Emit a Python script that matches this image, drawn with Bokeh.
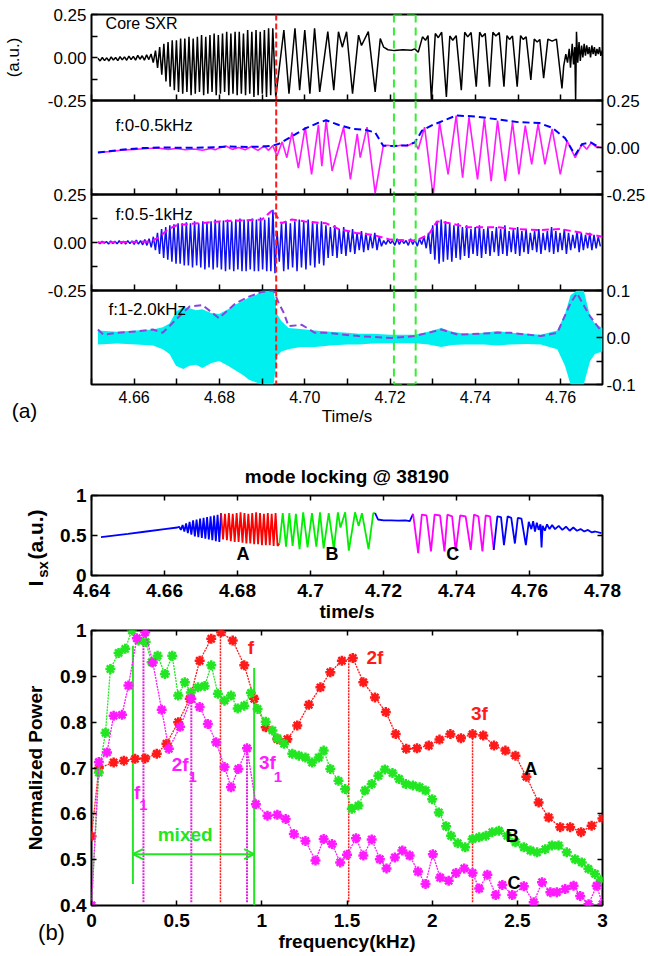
import numpy as np
from bokeh.plotting import figure
from bokeh.layouts import column, row
from bokeh.models import (Range1d, LinearAxis, FixedTicker, Span, Label, Arrow, OpenHead,
                          NumeralTickFormatter)
from bokeh.embed import file_html
from bokeh.resources import INLINE

FONT = "Liberation Sans"

# ===================== DATA : panel (a) =====================
a_time_range = (4.650, 4.7698)
a_xticks = [4.66, 4.68, 4.70, 4.72, 4.74, 4.76]
a_xminor = [4.65, 4.67, 4.69, 4.71, 4.73, 4.75]
red_line_t = 4.6933
lock_t0, lock_t1 = 4.7209, 4.7260

# core SXR (black) : fast cycles (start, end, peaks, troughs)
sxr_ripple_span = (4.6515, 4.6650)
sxr_ripple_peaks = [-0.005, 0.0, -0.002, 0.003, 0.0, 0.005, 0.004, 0.008, 0.007, 0.012, 0.01, 0.015, 0.02]
sxr_ripple_troughs = [-0.02, -0.018, -0.02, -0.015, -0.018, -0.014, -0.016, -0.012, -0.015, -0.01, -0.015, -0.012, -0.03]
sxr_main_span = (4.6650, 4.6925)
sxr_main_peaks = [0.04, 0.06, 0.08, 0.09, 0.10, 0.10, 0.11, 0.11, 0.12, 0.11, 0.12, 0.13, 0.12, 0.13,
                  0.14, 0.13, 0.14, 0.15, 0.14, 0.15, 0.15, 0.14, 0.16, 0.15, 0.16, 0.15, 0.16, 0.17]
sxr_main_troughs = [-0.06, -0.10, -0.14, -0.17, -0.19, -0.20, -0.21, -0.20, -0.22, -0.21, -0.20, -0.22, -0.21, -0.20,
                    -0.22, -0.21, -0.20, -0.22, -0.21, -0.22, -0.21, -0.22, -0.21, -0.23, -0.22, -0.21, -0.23, -0.22]
# core SXR slow part (time, value)
sxr_slow = [(4.6925, 0.17), (4.6932, -0.23), (4.6951, 0.16), (4.6963, -0.21), (4.6977, 0.17), (4.6988, -0.19),
            (4.7000, 0.16), (4.7012, -0.21), (4.7023, 0.17), (4.7035, -0.20), (4.7054, 0.15), (4.7068, -0.19),
            (4.7079, 0.15), (4.7088, 0.06), (4.7098, 0.15), (4.7112, -0.21), (4.7126, 0.13), (4.7133, 0.07),
            (4.7149, 0.15), (4.7165, -0.20), (4.7177, 0.11), (4.7185, 0.06), (4.7195, 0.045), (4.7210, 0.04),
            (4.7230, 0.045), (4.7250, 0.042), (4.7258, 0.05), (4.7266, 0.03), (4.7276, 0.12), (4.7283, 0.10),
            (4.7289, 0.127), (4.7297, -0.25), (4.7306, 0.14), (4.7313, 0.115), (4.7321, 0.147), (4.7332, -0.23),
            (4.7340, 0.125), (4.7347, 0.10), (4.7355, 0.127), (4.7367, -0.19), (4.7375, 0.147), (4.7382, 0.12),
            (4.7390, 0.145), (4.7402, -0.17), (4.7410, 0.147), (4.7416, 0.12), (4.7423, 0.14), (4.7433, -0.17),
            (4.7441, 0.147), (4.7448, 0.125), (4.7456, 0.145), (4.7467, -0.17), (4.7474, 0.127), (4.7480, 0.105),
            (4.7487, 0.125), (4.7498, -0.17), (4.7506, 0.127), (4.7512, 0.105), (4.7519, 0.12), (4.7530, -0.13),
            (4.7538, 0.107), (4.7545, 0.09), (4.7551, 0.105), (4.7560, -0.12), (4.7570, 0.107), (4.7580, 0.095),
            (4.7590, 0.107), (4.7603, -0.18),
            (4.7607, -0.05), (4.7612, 0.02), (4.7616, -0.03), (4.7620, 0.05), (4.7623, -0.06), (4.7627, 0.08),
            (4.7630, -0.04), (4.7633, 0.06), (4.7635, -0.25), (4.7637, 0.15), (4.7640, -0.03), (4.7643, 0.09),
            (4.7646, -0.02), (4.7649, 0.07), (4.7652, 0.0), (4.7655, 0.08), (4.7658, 0.01), (4.7661, 0.07),
            (4.7664, 0.02), (4.7667, 0.06), (4.7670, 0.0), (4.7673, 0.07), (4.7676, 0.02), (4.7679, 0.06),
            (4.7682, 0.01), (4.7685, 0.05), (4.7688, 0.02), (4.7691, 0.06), (4.7694, 0.01), (4.7697, 0.04)]

# f:0-0.5kHz (magenta) and its envelope (blue dashed)
lowpass = [(4.6515, -0.027), (4.654, -0.022), (4.657, -0.015), (4.660, -0.01), (4.663, -0.005), (4.6655, -0.003),
           (4.668, -0.01), (4.670, -0.005), (4.672, -0.012), (4.674, -0.008), (4.676, -0.015), (4.678, -0.005),
           (4.679, -0.012), (4.680, -0.002), (4.6815, 0.008), (4.683, -0.01), (4.6845, 0.0), (4.686, -0.012),
           (4.6875, 0.005), (4.689, -0.015), (4.6905, 0.008), (4.6915, -0.015), (4.6925, 0.01), (4.6935, -0.045),
           (4.6947, 0.03), (4.6958, -0.054), (4.6970, 0.08), (4.6985, -0.11), (4.7001, 0.108), (4.7016, -0.143),
           (4.7032, 0.12), (4.7040, -0.10), (4.7050, 0.143), (4.7064, -0.125), (4.7091, 0.108), (4.7107, -0.17),
           (4.7123, 0.072), (4.7130, -0.054), (4.7146, 0.108), (4.7165, -0.242), (4.7184, 0.009), (4.7195, 0.012),
           (4.7210, 0.005), (4.7225, 0.012), (4.7240, 0.008), (4.7250, 0.02), (4.7258, 0.027), (4.7266, -0.009),
           (4.7281, 0.108), (4.7301, -0.26), (4.7316, 0.134), (4.7336, -0.143), (4.7355, 0.17), (4.7370, -0.161),
           (4.7385, 0.161), (4.7405, -0.17), (4.7421, 0.152), (4.7437, -0.179), (4.7452, 0.143), (4.7470, -0.179),
           (4.7487, 0.134), (4.7502, -0.143), (4.7517, 0.116), (4.7532, -0.09), (4.7547, 0.125), (4.7563, -0.09),
           (4.7580, 0.099), (4.7599, -0.143), (4.7615, 0.036), (4.7634, -0.054), (4.7650, 0.018), (4.7661, -0.009),
           (4.7672, 0.027), (4.7682, 0.005), (4.7695, 0.0)]
lowpass_env = [(4.6515, -0.027), (4.657, -0.012), (4.662, -0.003), (4.667, 0.0), (4.672, -0.002), (4.677, 0.0),
               (4.682, 0.005), (4.687, 0.003), (4.690, 0.005), (4.6925, 0.01), (4.694, 0.02), (4.697, 0.06),
               (4.700, 0.10), (4.703, 0.13), (4.705, 0.145), (4.708, 0.12), (4.711, 0.10), (4.714, 0.095),
               (4.7165, 0.08), (4.7184, 0.009), (4.721, 0.008), (4.724, 0.012), (4.7258, 0.027), (4.7275, 0.09),
               (4.730, 0.12), (4.7355, 0.17), (4.740, 0.165), (4.745, 0.15), (4.750, 0.135), (4.755, 0.13),
               (4.758, 0.105), (4.761, 0.05), (4.7634, -0.04), (4.765, 0.018), (4.767, 0.027), (4.7692, 0.0)]

# f:0.5-1kHz (blue) cycles per segment, and envelope (magenta dashed)
band_segments = [
    ((4.6515, 4.6645),
     [0.004, 0.006, 0.005, 0.008, 0.006, 0.009, 0.007, 0.01, 0.008, 0.012, 0.01, 0.015, 0.02],
     [-0.006, -0.004, -0.008, -0.005, -0.007, -0.006, -0.008, -0.006, -0.01, -0.008, -0.012, -0.015, -0.025]),
    ((4.6645, 4.6935),
     [0.03, 0.05, 0.07, 0.08, 0.09, 0.095, 0.10, 0.10, 0.105, 0.10, 0.11, 0.10, 0.11, 0.105, 0.11,
      0.12, 0.11, 0.115, 0.12, 0.11, 0.12, 0.125, 0.12, 0.115, 0.125, 0.12, 0.13, 0.12, 0.13, 0.17],
     [-0.04, -0.06, -0.08, -0.09, -0.10, -0.11, -0.11, -0.12, -0.12, -0.13, -0.12, -0.13, -0.14, -0.13, -0.14,
      -0.13, -0.14, -0.15, -0.14, -0.15, -0.14, -0.15, -0.15, -0.14, -0.15, -0.15, -0.14, -0.15, -0.15, -0.16]),
    ((4.6935, 4.7185),
     [0.06, 0.10, 0.11, 0.10, 0.11, 0.12, 0.11, 0.12, 0.11, 0.10, 0.11, 0.09,
      0.08, 0.09, 0.07, 0.08, 0.06, 0.07, 0.05, 0.06, 0.05, 0.04, 0.05, 0.03],
     [-0.10, -0.15, -0.14, -0.13, -0.15, -0.13, -0.14, -0.12, -0.13, -0.11, -0.12, -0.08,
      -0.07, -0.08, -0.06, -0.07, -0.05, -0.06, -0.04, -0.05, -0.04, -0.03, -0.04, -0.02]),
    ((4.7185, 4.7290),
     [0.01, 0.015, 0.01, 0.02, 0.015, 0.01, 0.02, 0.015, 0.02, 0.03],
     [-0.01, -0.005, -0.015, -0.01, -0.005, -0.015, -0.01, -0.02, -0.01, -0.03]),
    ((4.7290, 4.7698),
     [0.05, 0.09, 0.11, 0.12, 0.11, 0.10, 0.09, 0.10, 0.08, 0.09, 0.07, 0.08, 0.09, 0.07, 0.08, 0.06, 0.08,
      0.07, 0.09, 0.06, 0.07, 0.08, 0.06, 0.07, 0.05, 0.06, 0.07, 0.05, 0.06, 0.08, 0.06, 0.05, 0.07, 0.05,
      0.04, 0.06, 0.05, 0.04, 0.05, 0.04, 0.03],
     [-0.06, -0.09, -0.11, -0.10, -0.09, -0.10, -0.08, -0.09, -0.07, -0.08, -0.06, -0.07, -0.08, -0.06, -0.07,
      -0.05, -0.07, -0.06, -0.07, -0.05, -0.06, -0.07, -0.05, -0.06, -0.04, -0.05, -0.06, -0.04, -0.05, -0.06,
      -0.05, -0.04, -0.06, -0.04, -0.03, -0.05, -0.04, -0.03, -0.04, -0.03, -0.02]),
]
band_env_t = [4.6515, 4.664, 4.666, 4.668, 4.670, 4.675, 4.680, 4.685, 4.690, 4.6925, 4.6945, 4.697, 4.700, 4.705,
              4.708, 4.712, 4.716, 4.720, 4.726, 4.729, 4.731, 4.734, 4.738, 4.745, 4.750, 4.755, 4.760, 4.765, 4.7698]
band_env_v = [0.0, 0.005, 0.03, 0.07, 0.09, 0.10, 0.11, 0.115, 0.12, 0.17, 0.10, 0.12, 0.11, 0.10,
              0.07, 0.05, 0.04, 0.015, 0.01, 0.04, 0.11, 0.10, 0.08, 0.08, 0.07, 0.065, 0.07, 0.05, 0.03]

# f:1-2.0kHz (cyan band) upper/lower extent, and envelope (purple dashed)
hf_t = [4.6515, 4.6560, 4.6605, 4.6644, 4.6667, 4.6683, 4.6698, 4.6715, 4.6730, 4.6745, 4.6760, 4.6780, 4.6799,
        4.6820, 4.6838, 4.6855, 4.6869, 4.6885, 4.6900, 4.6915, 4.6927, 4.6935, 4.6945, 4.6962, 4.6990, 4.7024,
        4.7060, 4.7100, 4.7126, 4.7160, 4.7200, 4.7258, 4.7290, 4.7320, 4.7345, 4.7375, 4.7420, 4.7452, 4.7483,
        4.7520, 4.7553, 4.7592, 4.7610, 4.7623, 4.7638, 4.7654, 4.7669, 4.7680, 4.7698]
hf_hi = [0.015, 0.012, 0.015, 0.017, 0.022, 0.03, 0.055, 0.065, 0.062, 0.058, 0.06, 0.052, 0.05, 0.06, 0.07,
         0.078, 0.085, 0.09, 0.10, 0.10, 0.10, 0.05, 0.035, 0.02, 0.018, 0.015, 0.012, 0.010, 0.008, 0.008,
         0.006, 0.006, 0.012, 0.02, 0.012, 0.008, 0.010, 0.014, 0.010, 0.008, 0.006, 0.015, 0.05, 0.09, 0.10,
         0.10, 0.045, 0.03, 0.02]
hf_lo = [-0.015, -0.013, -0.015, -0.017, -0.025, -0.035, -0.06, -0.067, -0.06, -0.058, -0.065, -0.055, -0.05,
         -0.06, -0.07, -0.08, -0.09, -0.095, -0.10, -0.10, -0.10, -0.04, -0.03, -0.025, -0.02, -0.02, -0.017,
         -0.015, -0.015, -0.013, -0.012, -0.012, -0.015, -0.02, -0.016, -0.015, -0.015, -0.017, -0.015, -0.014,
         -0.015, -0.025, -0.06, -0.10, -0.10, -0.10, -0.05, -0.035, -0.03]
hf_env_t = [4.6515, 4.6528, 4.6559, 4.6605, 4.6644, 4.6667, 4.6698, 4.6730, 4.6760, 4.6799, 4.6838, 4.6869,
            4.6900, 4.6927, 4.6939, 4.6951, 4.6962, 4.6993, 4.7024, 4.7049, 4.7126, 4.7204, 4.7258, 4.7320,
            4.7359, 4.7452, 4.7483, 4.7553, 4.7592, 4.7623, 4.7638, 4.7669, 4.7692]
hf_env_v = [0.017, 0.006, 0.010, 0.013, 0.017, 0.010, 0.038, 0.066, 0.069, 0.041, 0.073, 0.087, 0.097, 0.10,
            0.073, 0.052, 0.024, 0.027, 0.010, 0.010, 0.003, -0.001, 0.003, 0.017, 0.006, 0.010, 0.010, 0.003,
            0.010, 0.073, 0.094, 0.045, 0.017]

# ===================== DATA : panel (b) top =====================
ml_xticks = [4.64, 4.66, 4.68, 4.70, 4.72, 4.74, 4.76, 4.78]
ml_ramp = [(4.6426, 0.48), (4.650, 0.52), (4.655, 0.55), (4.660, 0.58), (4.6635, 0.60)]
ml_blue_span = (4.6640, 4.6755)
ml_blue_peaks = [0.61, 0.63, 0.65, 0.67, 0.69, 0.70, 0.71, 0.72, 0.73, 0.74, 0.75, 0.76]
ml_blue_troughs = [0.57, 0.55, 0.53, 0.51, 0.49, 0.48, 0.47, 0.46, 0.45, 0.44, 0.43, 0.42]
ml_red_span = (4.6755, 4.6915)
ml_red_peaks = [0.78, 0.77, 0.78, 0.77, 0.78, 0.79, 0.78, 0.77, 0.78, 0.79, 0.78, 0.77, 0.78, 0.77, 0.78]
ml_red_troughs = [0.45, 0.44, 0.43, 0.42, 0.42, 0.41, 0.40, 0.40, 0.39, 0.39, 0.38, 0.38, 0.38, 0.37, 0.37]
ml_green = [(4.6915, 0.40), (4.6924, 0.78), (4.6933, 0.36), (4.6942, 0.78), (4.6951, 0.37), (4.6960, 0.77),
            (4.6970, 0.33), (4.6980, 0.79), (4.6992, 0.35), (4.7004, 0.78), (4.7016, 0.36), (4.7026, 0.79),
            (4.7036, 0.34), (4.7050, 0.78), (4.7064, 0.33), (4.7075, 0.79), (4.7082, 0.60), (4.7095, 0.79),
            (4.7105, 0.31), (4.7122, 0.79), (4.7132, 0.62), (4.7141, 0.78), (4.7159, 0.33), (4.7172, 0.78)]
ml_flat = [(4.7177, 0.78), (4.7185, 0.70), (4.7200, 0.69), (4.7220, 0.69), (4.7240, 0.685), (4.7260, 0.69),
           (4.7272, 0.68), (4.7281, 0.77)]
ml_mag = [(4.7281, 0.77), (4.7295, 0.28), (4.7305, 0.76), (4.7318, 0.75), (4.7330, 0.30), (4.7340, 0.76),
          (4.7355, 0.75), (4.7367, 0.30), (4.7375, 0.76), (4.7388, 0.74), (4.7398, 0.30), (4.7410, 0.75),
          (4.7425, 0.74), (4.7439, 0.32), (4.7448, 0.76), (4.7460, 0.74), (4.7471, 0.30), (4.7480, 0.75),
          (4.7492, 0.74), (4.7502, 0.32)]
ml_tail = [(4.7502, 0.32), (4.7512, 0.74), (4.7522, 0.73), (4.7530, 0.38), (4.7540, 0.74), (4.7550, 0.72),
           (4.7560, 0.40), (4.7568, 0.72), (4.7578, 0.71), (4.7590, 0.38), (4.7598, 0.67), (4.7605, 0.58),
           (4.7610, 0.68), (4.7615, 0.55), (4.7620, 0.66), (4.7625, 0.57), (4.7630, 0.64), (4.7633, 0.35),
           (4.7636, 0.62), (4.7642, 0.56), (4.7648, 0.64), (4.7655, 0.58), (4.7662, 0.63), (4.7670, 0.58),
           (4.7680, 0.62), (4.7690, 0.57), (4.7700, 0.61), (4.7710, 0.56), (4.7720, 0.60), (4.7730, 0.56),
           (4.7740, 0.58), (4.7750, 0.55), (4.7760, 0.57), (4.7770, 0.54), (4.7780, 0.55), (4.7797, 0.53)]

# ===================== DATA : panel (b) bottom =====================
fA = [0, 0.043, 0.13, 0.19, 0.256, 0.315, 0.383, 0.44, 0.509, 0.577, 0.635, 0.703, 0.761, 0.829, 0.897, 0.955,
      1.023, 1.091, 1.15, 1.208, 1.276, 1.344, 1.402, 1.47, 1.534, 1.596, 1.664, 1.728, 1.786, 1.848, 1.911,
      1.98, 2.043, 2.107, 2.169, 2.237, 2.3, 2.363, 2.43, 2.489, 2.553, 2.625, 2.684, 2.752, 2.81, 2.874,
      2.936, 3.0]
pA = [0.551, 0.70, 0.712, 0.716, 0.72, 0.721, 0.731, 0.753, 0.80, 0.851, 0.934, 0.982, 0.996, 0.978, 0.924,
      0.851, 0.789, 0.763, 0.763, 0.793, 0.838, 0.876, 0.909, 0.934, 0.94, 0.887, 0.854, 0.822, 0.774, 0.742,
      0.743, 0.749, 0.762, 0.774, 0.765, 0.774, 0.771, 0.749, 0.738, 0.727, 0.681, 0.625, 0.592, 0.571, 0.571,
      0.56, 0.574, 0.59]
fB = [0.0, 0.043, 0.082, 0.111, 0.159, 0.198, 0.237, 0.276, 0.318, 0.353, 0.388, 0.431, 0.474, 0.509, 0.548,
      0.583, 0.625, 0.664, 0.703, 0.742, 0.781, 0.819, 0.858, 0.897, 0.936, 0.975, 1.023, 1.062, 1.091, 1.13,
      1.179, 1.217, 1.256, 1.295, 1.334, 1.363, 1.402, 1.45, 1.489, 1.528, 1.567, 1.606, 1.645, 1.684, 1.722,
      1.767, 1.806, 1.845, 1.887, 1.926, 1.961, 2.0, 2.039, 2.082, 2.111, 2.15, 2.194, 2.237, 2.276, 2.315,
      2.353, 2.392, 2.441, 2.489, 2.538, 2.577, 2.616, 2.664, 2.703, 2.742, 2.79, 2.839, 2.878, 2.917, 2.956,
      2.99]
pB = [0.40, 0.69, 0.777, 0.916, 0.951, 0.96, 1.0, 0.978, 0.975, 0.931, 0.945, 0.905, 0.945, 0.858, 0.887,
      0.865, 0.876, 0.879, 0.924, 0.862, 0.847, 0.858, 0.83, 0.836, 0.864, 0.829, 0.801, 0.782, 0.765, 0.753,
      0.731, 0.727, 0.723, 0.712, 0.723, 0.738, 0.698, 0.672, 0.654, 0.611, 0.618, 0.651, 0.665, 0.683, 0.697,
      0.689, 0.676, 0.665, 0.662, 0.658, 0.651, 0.632, 0.603, 0.573, 0.552, 0.536, 0.527, 0.545, 0.549, 0.552,
      0.56, 0.563, 0.552, 0.538, 0.527, 0.52, 0.516, 0.523, 0.531, 0.531, 0.516, 0.501, 0.494, 0.48, 0.469,
      0.456]
fC = [0.0, 0.043, 0.091, 0.13, 0.179, 0.217, 0.266, 0.315, 0.36, 0.412, 0.454, 0.52, 0.586, 0.635, 0.683,
      0.732, 0.781, 0.819, 0.862, 0.913, 0.965, 1.033, 1.091, 1.14, 1.188, 1.256, 1.315, 1.363, 1.412, 1.46,
      1.50, 1.553, 1.596, 1.645, 1.693, 1.732, 1.781, 1.825, 1.868, 1.917, 1.961, 2.004, 2.047, 2.097, 2.14,
      2.188, 2.237, 2.276, 2.324, 2.373, 2.412, 2.47, 2.538, 2.596, 2.645, 2.694, 2.732, 2.781, 2.83, 2.869,
      2.918, 2.966, 3.0]
pC = [0.40, 0.713, 0.734, 0.814, 0.816, 0.88, 0.983, 0.996, 0.93, 0.827, 0.742, 0.79, 0.851, 0.833, 0.796,
      0.756, 0.702, 0.658, 0.698, 0.743, 0.621, 0.596, 0.598, 0.589, 0.556, 0.541, 0.498, 0.545, 0.534, 0.494,
      0.511, 0.547, 0.509, 0.544, 0.501, 0.481, 0.505, 0.52, 0.509, 0.474, 0.447, 0.512, 0.461, 0.454, 0.471,
      0.481, 0.471, 0.437, 0.467, 0.423, 0.445, 0.423, 0.442, 0.407, 0.451, 0.429, 0.429, 0.436, 0.443, 0.421,
      0.403, 0.443, 0.403]
harm_f = [0.757, 1.51, 2.237]          # f, 2f, 3f (red)
harm_top = [0.996, 0.94, 0.774]
sub_f = [0.305, 0.586, 0.913]          # f1, 2f1, 3f1 (magenta)
sub_top = [0.996, 0.851, 0.743]
harm_base = 0.407
mixed_f = [0.243, 0.955]
mixed_bot = [0.447, 0.40]
mixed_top = [0.967, 0.918]
mixed_arrow_y = 0.512

# ===================== helpers =====================
C_RED, C_GREEN, C_MAG, C_BLUE, C_CYAN = "#ff1a1a", "#22e622", "#ff1aff", "#1010ee", "#00f0f0"
LEFT, RIGHT = 89, 44


def cycles(span, peaks, troughs):
    n = min(len(peaks), len(troughs))
    P = (span[1] - span[0]) / n
    t = np.empty(2 * n)
    v = np.empty(2 * n)
    t[0::2] = span[0] + np.arange(n) * P
    t[1::2] = span[0] + (np.arange(n) + 0.5) * P
    v[0::2] = peaks[:n]
    v[1::2] = troughs[:n]
    return t, v


def unzip(pts):
    return np.array([p[0] for p in pts]), np.array([p[1] for p in pts])


def add_axis(p, side, ticks, minor=None, labels=True, size="17px", bold=False, tick_len=6,
             label=None, label_size="17px", standoff=5, label_standoff=5, overrides=None, fmt=None):
    if labels:
        ticker = FixedTicker(ticks=ticks, minor_ticks=minor or [])
    else:
        # unlabeled side: every tick mark drawn as a (label-free) minor tick
        ticker = FixedTicker(ticks=[], minor_ticks=list(ticks) + list(minor or []))
    ax = LinearAxis(ticker=ticker)
    ax.major_tick_in = tick_len
    ax.major_tick_out = 0
    ax.minor_tick_in = tick_len
    ax.minor_tick_out = 0
    ax.major_tick_line_width = 1.5
    ax.minor_tick_line_width = 1.5
    ax.major_tick_line_color = "black"
    ax.minor_tick_line_color = "black"
    ax.axis_line_color = None
    ax.major_label_text_font = FONT
    ax.major_label_text_color = "black"
    ax.major_label_text_font_style = "bold" if bold else "normal"
    ax.major_label_text_font_size = size
    ax.major_label_standoff = standoff if labels else 0
    if fmt:
        ax.formatter = NumeralTickFormatter(format=fmt)
    if overrides:
        ax.major_label_overrides = overrides
    if label:
        ax.axis_label = label
        ax.axis_label_text_font = FONT
        ax.axis_label_text_font_size = label_size
        ax.axis_label_text_font_style = "bold" if bold else "normal"
        ax.axis_label_text_color = "black"
        ax.axis_label_standoff = label_standoff
    p.add_layout(ax, side)
    return ax


def base_fig(h, xr, yr, left, right, top, bottom, margin_top=0, outline=True, w=648):
    p = figure(width=w, height=h, x_range=Range1d(*xr), y_range=Range1d(*yr),
               output_backend="svg", toolbar_location=None,
               x_axis_location=None, y_axis_location=None,
               min_border_left=left, min_border_right=right,
               min_border_top=top, min_border_bottom=bottom)
    p.background_fill_color = None
    p.border_fill_color = None
    p.outline_line_color = "black" if outline else None
    p.outline_line_width = 2
    for g in p.grid:
        g.visible = False
    p.margin = (margin_top, 0, 0, 0)
    return p


def txt(p, x, y, s, size, color="black", bold=False, align="left", angle=0):
    p.add_layout(Label(x=x, y=y, text=s, text_font=FONT, text_font_size=size, text_color=color,
                       text_font_style="bold" if bold else "normal", text_align=align,
                       text_baseline="middle", angle=angle, angle_units="deg"))


def markers_a(p):
    p.add_layout(Span(location=red_line_t, dimension="height", line_color=C_RED,
                      line_dash="6 3", line_width=2))
    for t in (lock_t0, lock_t1):
        p.add_layout(Span(location=t, dimension="height", line_color="#33ee33",
                          line_dash="8 5", line_width=2))


# ===================== panel (a) =====================
fa1 = base_fig(109, a_time_range, (-0.25, 0.25), LEFT, RIGHT, 14, 9)
fa2 = base_fig(112, a_time_range, (-0.25, 0.25), LEFT, RIGHT, 9, 9, -18)
fa3 = base_fig(114, a_time_range, (-0.25, 0.25), LEFT, RIGHT, 9, 9, -18)
fa4 = base_fig(147, a_time_range, (-0.1, 0.1), LEFT, RIGHT, 9, 42, -18)

yt25 = [-0.25, 0.0, 0.25]
ym25 = [-0.125, 0.125]
add_axis(fa1, "left", yt25, ym25, label="(a.u.)", label_standoff=22, fmt="0.00")
add_axis(fa2, "right", yt25, ym25, standoff=4, fmt="0.00")
add_axis(fa3, "left", yt25, ym25, fmt="0.00")
add_axis(fa4, "right", [-0.1, 0.0, 0.1], [-0.05, 0.05], standoff=4, fmt="0.0")
for f in (fa1, fa2, fa3):
    add_axis(f, "below", a_xticks, a_xminor, labels=False)
add_axis(fa4, "below", a_xticks, a_xminor, size="16px", standoff=6, label="Time/s",
         label_size="17px", label_standoff=1, fmt="0.00")

# core SXR
t_r, v_r = cycles(sxr_ripple_span, sxr_ripple_peaks, sxr_ripple_troughs)
t_m, v_m = cycles(sxr_main_span, sxr_main_peaks, sxr_main_troughs)
t_s, v_s = unzip(sxr_slow)
fa1.line(np.concatenate([t_r, t_m, t_s]), np.concatenate([v_r, v_m, v_s]), line_color="black", line_width=1.5)
markers_a(fa1)
fa1.line([lock_t0, lock_t1], [0.25, 0.25], line_color="#33ee33", line_dash="8 5", line_width=2)
txt(fa1, 4.6533, 0.196, "Core SXR", "16px")

# 0-0.5 kHz
t_l, v_l = unzip(lowpass)
fa2.line(t_l, v_l, line_color=C_MAG, line_width=1.6)
t_le, v_le = unzip(lowpass_env)
fa2.line(t_le, v_le, line_color="#0000ff", line_width=2, line_dash="7 4")
markers_a(fa2)
txt(fa2, 4.6556, 0.117, "f:0-0.5kHz", "17px")

# 0.5-1 kHz
bt, bv = [], []
for span, pk, tr in band_segments:
    t_, v_ = cycles(span, pk, tr)
    bt.append(t_)
    bv.append(v_)
fa3.line(np.concatenate(bt), np.concatenate(bv), line_color=C_BLUE, line_width=1.5)
fa3.line(band_env_t, band_env_v, line_color="#ff00ff", line_width=2, line_dash="7 4")
markers_a(fa3)
txt(fa3, 4.6556, 0.146, "f:0.5-1kHz", "17px")

# 1-2 kHz
fa4.varea(x=hf_t, y1=hf_lo, y2=hf_hi, fill_color=C_CYAN)
fa4.line(hf_env_t, hf_env_v, line_color="#8844dd", line_width=2, line_dash="7 4")
markers_a(fa4)
fa4.line([lock_t0, lock_t1], [-0.1, -0.1], line_color="#33ee33", line_dash="8 5", line_width=2)
txt(fa4, 4.6540, 0.059, "f:1-2.0kHz", "17px")

# ===================== panel (b) top =====================
fb1 = base_fig(197, (4.64, 4.78), (0, 1), LEFT, RIGHT, 67, 50)
fb1.title.text = "mode locking @ 38190"
fb1.title.align = "center"
fb1.title.text_font = FONT
fb1.title.text_font_size = "19px"
fb1.title.text_font_style = "bold"
fb1.title.text_color = "black"
fb1.title.standoff = 18
add_axis(fb1, "left", [0, 0.5, 1], size="19px", bold=True, overrides={0: "0", 1: "1"})
add_axis(fb1, "right", [0, 0.5, 1], labels=False, tick_len=5)
add_axis(fb1, "below", ml_xticks, size="19px", bold=True, standoff=8, overrides={4.7: "4.7"},
         label="time/s", label_size="19px", label_standoff=1, tick_len=5)
add_axis(fb1, "above", ml_xticks, labels=False, tick_len=5)

t1, v1 = unzip(ml_ramp)
t2, v2 = cycles(ml_blue_span, ml_blue_peaks, ml_blue_troughs)
t3, v3 = cycles(ml_red_span, ml_red_peaks, ml_red_troughs)
segs = [("#0000ff", np.concatenate([t1, t2]), np.concatenate([v1, v2])),
        ("#ff0000", t3, v3),
        ("#00ee00",) + unzip(ml_green),
        ("#0000ff",) + unzip(ml_flat),
        ("#ff00ff",) + unzip(ml_mag),
        ("#0000ff",) + unzip(ml_tail)]
for i, (c, t_, v_) in enumerate(segs):
    if i + 1 < len(segs):
        t_ = np.append(t_, segs[i + 1][1][0])
        v_ = np.append(v_, segs[i + 1][2][0])
    fb1.line(t_, v_, line_color=c, line_width=1.8)
txt(fb1, 4.6815, 0.27, "A", "18px", bold=True, align="center")
txt(fb1, 4.7059, 0.27, "B", "18px", bold=True, align="center")
txt(fb1, 4.7390, 0.27, "C", "18px", bold=True, align="center")

# ===================== panel (b) bottom =====================
fb2 = base_fig(339, (0, 3), (0.4, 1), LEFT, RIGHT, 13, 51, -8)
add_axis(fb2, "left", [0.4, 0.5, 0.6, 0.7, 0.8, 0.9, 1.0], size="19px", bold=True, overrides={1: "1"},
         label="Normalized Power", label_size="19px", label_standoff=11, tick_len=5)
add_axis(fb2, "right", [0.4, 0.5, 0.6, 0.7, 0.8, 0.9, 1.0], labels=False, tick_len=5)
add_axis(fb2, "below", [0, 0.5, 1, 1.5, 2, 2.5, 3], size="19px", bold=True, standoff=8,
         overrides={0: "0", 1: "1", 2: "2", 3: "3"}, label="frequency(kHz)", label_size="19px",
         label_standoff=1, tick_len=5)
add_axis(fb2, "above", [0, 0.5, 1, 1.5, 2, 2.5, 3], labels=False, tick_len=5)

fb2.segment(x0=harm_f, y0=[harm_base] * 3, x1=harm_f, y1=harm_top, line_color=C_RED,
            line_dash="2 1", line_width=1.5)
fb2.segment(x0=sub_f, y0=[harm_base] * 3, x1=sub_f, y1=sub_top, line_color="#dd22dd",
            line_dash="2 1", line_width=2)
fb2.segment(x0=mixed_f, y0=mixed_bot, x1=mixed_f, y1=mixed_top, line_color=C_GREEN, line_width=2)
fb2.add_layout(Arrow(start=OpenHead(size=10, line_color=C_GREEN, line_width=2),
                     end=OpenHead(size=10, line_color=C_GREEN, line_width=2),
                     x_start=mixed_f[0], y_start=mixed_arrow_y, x_end=mixed_f[1], y_end=mixed_arrow_y,
                     line_color=C_GREEN, line_width=2))
for fx, py, c in ((fA, pA, C_RED), (fB, pB, C_GREEN), (fC, pC, C_MAG)):
    n = min(len(fx), len(py))
    fb2.line(fx[:n], py[:n], line_color=c, line_width=1.3, line_dash="2 1")
    fb2.scatter(fx[:n], py[:n], marker="asterisk", size=10, line_color=c, line_width=2.5)
    fb2.scatter(fx[:n], py[:n], marker="circle", size=5, line_color=c, fill_color=c)

txt(fb2, 0.936, 0.964, "f", "19px", C_RED, True, "center")
txt(fb2, 1.664, 0.942, "2f", "19px", C_RED, True, "center")
txt(fb2, 2.277, 0.818, "3f", "19px", C_RED, True, "center")
txt(fb2, 2.579, 0.697, "A", "18px", "black", True, "center")
txt(fb2, 2.470, 0.551, "B", "18px", "black", True, "center")
txt(fb2, 2.480, 0.450, "C", "18px", "black", True, "center")
txt(fb2, 0.268, 0.646, "f", "19px", C_MAG, True, "center")
txt(fb2, 0.305, 0.620, "1", "15px", C_MAG, True, "center")
txt(fb2, 0.520, 0.707, "2f", "19px", C_MAG, True, "center")
txt(fb2, 0.594, 0.680, "1", "15px", C_MAG, True, "center")
txt(fb2, 1.033, 0.713, "3f", "19px", C_MAG, True, "center")
txt(fb2, 1.095, 0.680, "1", "15px", C_MAG, True, "center")
txt(fb2, 0.550, 0.555, "mixed", "19px", C_GREEN, True, "center")

# ===================== page overlay for texts outside the plot frames =====================
# transparent full-page figure laid beside/over the main column; coordinates are page pixels
ov = base_fig(956, (0, 648), (956, 0), 0, 0, 0, 0, 0, outline=False)
ov.margin = (0, 0, 0, -648)
txt(ov, 24, 410, "(a)", "21px", align="center")
txt(ov, 51, 932, "(b)", "22px", align="center")
txt(ov, 35, 583, "I", "21px", bold=True, align="center", angle=90)
txt(ov, 42, 569, "sx", "15px", bold=True, align="center", angle=90)
txt(ov, 35, 534, "(a.u.)", "21px", bold=True, align="center", angle=90)

main = column(fa1, fa2, fa3, fa4, fb1, fb2, spacing=0)
layout = row(main, ov, spacing=0)
open("out.html", "w").write(file_html(layout, INLINE))
